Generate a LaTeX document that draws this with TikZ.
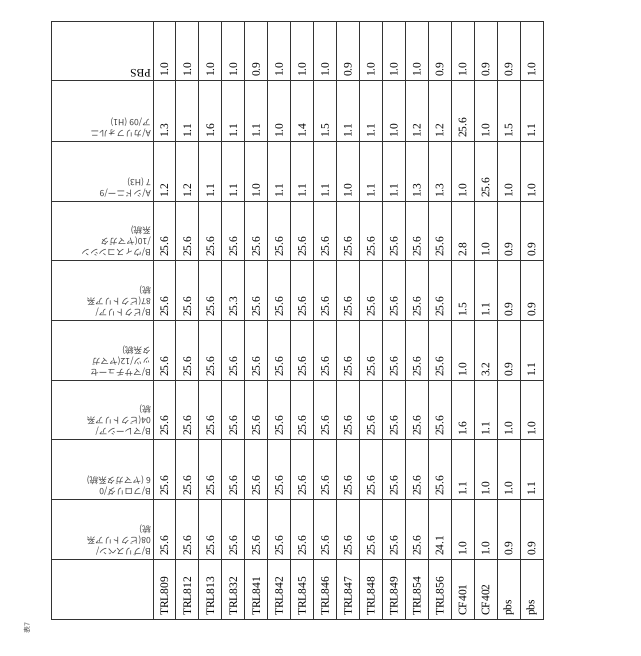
\documentclass[tikz,border=0pt]{standalone}
\usepackage{fontspec}
\setmainfont{Liberation Serif}
\newfontfamily\jpfont{Noto Sans CJK JP}
\usetikzlibrary{positioning}

\begin{document}
\begin{tikzpicture}[x=1pt,y=-1pt,
  grid/.style={draw=black!80,line width=0.9pt},
  val/.style={rotate=90,anchor=west,inner sep=1pt,font=\fontsize{11.5}{11.5}\selectfont},
  rowname/.style={rotate=90,anchor=west,inner sep=1pt,font=\fontsize{11.5}{11.5}\selectfont},
  head/.style={rotate=180,anchor=north west,inner sep=1pt,align=left,
    font=\jpfont\fontsize{8.6}{11}\selectfont,text=black!75}]
\useasboundingbox (0,0) rectangle (640,656);
% table frame
\draw[grid] (51,21) rectangle (543,619);
\foreach \y in {80,141,201,260,320,380,439,499,559}
  \draw[grid] (51,\y) -- (543,\y);
\foreach \i in {0,...,16}
  \draw[grid] ({153+22.94*\i},21) -- ({153+22.94*\i},619);
% row names
\foreach \n [count=\i] in {TRL809,TRL812,TRL813,TRL832,TRL841,TRL842,TRL845,TRL846,TRL847,TRL848,TRL849,TRL854,TRL856,CF401,CF402,pbs,pbs}
  \node[rowname] (r\i) at ({153+22.94*(\i-0.5)},617) {\n};
% headers
\node[head] (h1) at (152,557) {B/ブリスベン/\\08(ビクトリア系\\統)};
\node[head] (h2) at (152,497) {B/フロリダ/0\\6 (ヤマガタ系統)};
\node[head] (h3) at (152,437) {B/マレーシア/\\04(ビクトリア系\\統)};
\node[head] (h4) at (152,378) {B/マサチューセ\\ッツ/12(ヤマガ\\タ系統)};
\node[head] (h5) at (152,318) {B/ビクトリア/\\87(ビクトリア系\\統)};
\node[head] (h6) at (152,258) {B/ウィスコンシン\\/10(ヤマガタ\\系統)};
\node[head] (h7) at (152,199) {A/シドニー/9\\7 (H3)};
\node[head] (h8) at (152,139) {A/カリフォルニ\\ア/09 (H1)};
\node[head,font=\fontsize{11.5}{11.5}\selectfont,text=black] (h9) at (152,78) {PBS};
% values
\foreach \yb/\vals in {
  557/{25.6,25.6,25.6,25.6,25.6,25.6,25.6,25.6,25.6,25.6,25.6,25.6,24.1,1.0,1.0,0.9,0.9},
  497/{25.6,25.6,25.6,25.6,25.6,25.6,25.6,25.6,25.6,25.6,25.6,25.6,25.6,1.1,1.0,1.0,1.1},
  437/{25.6,25.6,25.6,25.6,25.6,25.6,25.6,25.6,25.6,25.6,25.6,25.6,25.6,1.6,1.1,1.0,1.0},
  378/{25.6,25.6,25.6,25.6,25.6,25.6,25.6,25.6,25.6,25.6,25.6,25.6,25.6,1.0,3.2,0.9,1.1},
  318/{25.6,25.6,25.6,25.3,25.6,25.6,25.6,25.6,25.6,25.6,25.6,25.6,25.6,1.5,1.1,0.9,0.9},
  258/{25.6,25.6,25.6,25.6,25.6,25.6,25.6,25.6,25.6,25.6,25.6,25.6,25.6,2.8,1.0,0.9,0.9},
  199/{1.2,1.2,1.1,1.1,1.0,1.1,1.1,1.1,1.0,1.1,1.1,1.3,1.3,1.0,25.6,1.0,1.0},
  139/{1.3,1.1,1.6,1.1,1.1,1.0,1.4,1.5,1.1,1.1,1.0,1.2,1.2,25.6,1.0,1.5,1.1},
  78/{1.0,1.0,1.0,1.0,0.9,1.0,1.0,1.0,0.9,1.0,1.0,1.0,0.9,1.0,0.9,0.9,1.0}}
  \foreach \v [count=\i] in \vals
    \node[val] at ({153+22.94*(\i-0.5)},\yb) {\v};
% caption
\node[rotate=90,font=\jpfont\fontsize{7}{7}\selectfont,text=black!70] (cap) at (27,628) {表7};
\end{tikzpicture}
\end{document}
